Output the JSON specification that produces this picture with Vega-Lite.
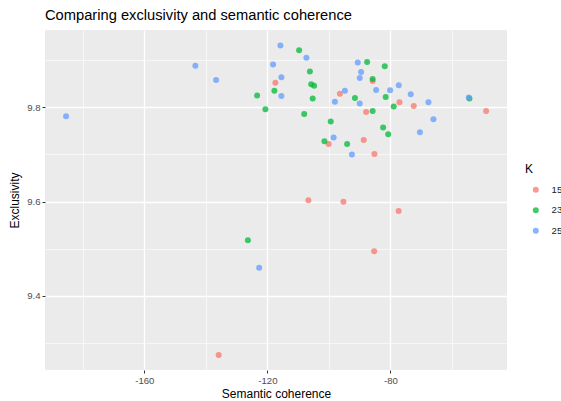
{
  "$schema": "https://vega.github.io/schema/vega-lite/v6.json",
  "width": 462, "height": 340,
  "autosize": "none",
  "padding": {"left": 45, "top": 30, "right": 54, "bottom": 31},
  "background": "white",
  "title": {"text": "Comparing exclusivity and semantic coherence", "anchor": "start", "frame": "group", "fontSize": 14.7, "fontWeight": "normal", "color": "black", "offset": 7},
  "config": {
    "font": "Liberation Sans",
    "view": {"fill": "#EBEBEB", "stroke": null}
  },
  "data": {"values": [
    {"sc": -117.4, "ex": 9.852, "K": "15"},
    {"sc": -85.76, "ex": 9.856, "K": "15"},
    {"sc": -96.42, "ex": 9.829, "K": "15"},
    {"sc": -77.07, "ex": 9.811, "K": "15"},
    {"sc": -72.42, "ex": 9.803, "K": "15"},
    {"sc": -48.88, "ex": 9.792, "K": "15"},
    {"sc": -87.9, "ex": 9.790, "K": "15"},
    {"sc": -100.07, "ex": 9.722, "K": "15"},
    {"sc": -88.68, "ex": 9.731, "K": "15"},
    {"sc": -85.2, "ex": 9.701, "K": "15"},
    {"sc": -106.67, "ex": 9.603, "K": "15"},
    {"sc": -95.28, "ex": 9.600, "K": "15"},
    {"sc": -77.33, "ex": 9.580, "K": "15"},
    {"sc": -85.3, "ex": 9.495, "K": "15"},
    {"sc": -135.84, "ex": 9.275, "K": "15"},
    {"sc": -109.69, "ex": 9.921, "K": "23"},
    {"sc": -117.72, "ex": 9.835, "K": "23"},
    {"sc": -123.35, "ex": 9.825, "K": "23"},
    {"sc": -120.65, "ex": 9.796, "K": "23"},
    {"sc": -106.18, "ex": 9.876, "K": "23"},
    {"sc": -105.76, "ex": 9.849, "K": "23"},
    {"sc": -104.81, "ex": 9.846, "K": "23"},
    {"sc": -105.27, "ex": 9.819, "K": "23"},
    {"sc": -108.03, "ex": 9.786, "K": "23"},
    {"sc": -87.58, "ex": 9.896, "K": "23"},
    {"sc": -81.85, "ex": 9.887, "K": "23"},
    {"sc": -85.79, "ex": 9.860, "K": "23"},
    {"sc": -91.54, "ex": 9.820, "K": "23"},
    {"sc": -81.53, "ex": 9.822, "K": "23"},
    {"sc": -78.93, "ex": 9.802, "K": "23"},
    {"sc": -54.31, "ex": 9.819, "K": "23"},
    {"sc": -85.79, "ex": 9.792, "K": "23"},
    {"sc": -99.41, "ex": 9.770, "K": "23"},
    {"sc": -82.37, "ex": 9.757, "K": "23"},
    {"sc": -80.72, "ex": 9.743, "K": "23"},
    {"sc": -101.46, "ex": 9.728, "K": "23"},
    {"sc": -94.08, "ex": 9.722, "K": "23"},
    {"sc": -126.34, "ex": 9.518, "K": "23"},
    {"sc": -185.46, "ex": 9.781, "K": "25"},
    {"sc": -143.41, "ex": 9.888, "K": "25"},
    {"sc": -136.68, "ex": 9.858, "K": "25"},
    {"sc": -115.77, "ex": 9.931, "K": "25"},
    {"sc": -118.15, "ex": 9.891, "K": "25"},
    {"sc": -115.45, "ex": 9.864, "K": "25"},
    {"sc": -115.45, "ex": 9.824, "K": "25"},
    {"sc": -107.32, "ex": 9.905, "K": "25"},
    {"sc": -90.63, "ex": 9.895, "K": "25"},
    {"sc": -89.53, "ex": 9.875, "K": "25"},
    {"sc": -89.98, "ex": 9.862, "K": "25"},
    {"sc": -94.8, "ex": 9.835, "K": "25"},
    {"sc": -84.65, "ex": 9.837, "K": "25"},
    {"sc": -80.1, "ex": 9.836, "K": "25"},
    {"sc": -77.3, "ex": 9.847, "K": "25"},
    {"sc": -98.05, "ex": 9.812, "K": "25"},
    {"sc": -89.98, "ex": 9.808, "K": "25"},
    {"sc": -73.4, "ex": 9.828, "K": "25"},
    {"sc": -67.64, "ex": 9.811, "K": "25"},
    {"sc": -54.54, "ex": 9.821, "K": "25"},
    {"sc": -66.02, "ex": 9.775, "K": "25"},
    {"sc": -70.41, "ex": 9.747, "K": "25"},
    {"sc": -98.47, "ex": 9.736, "K": "25"},
    {"sc": -92.52, "ex": 9.700, "K": "25"},
    {"sc": -122.67, "ex": 9.460, "K": "25"}
  ]},
  "mark": {"type": "circle", "size": 36, "opacity": 0.75},
  "encoding": {
    "x": {
      "field": "sc", "type": "quantitative", "title": "Semantic coherence",
      "scale": {"domain": [-192.3, -42.1], "nice": false, "zero": false},
      "axis": {
        "values": [-180, -160, -140, -120, -100, -80, -60],
        "labelExpr": "datum.value % 40 === 0 ? toString(datum.value) : ''",
        "domain": false, "grid": true, "gridColor": "white",
        "gridWidth": {"condition": {"test": "datum.value % 40 === 0", "value": 1.3}, "value": 0.6},
        "tickColor": {"condition": {"test": "datum.value % 40 === 0", "value": "#333333"}, "value": "transparent"},
        "tickSize": 3, "tickWidth": 1,
        "labelColor": "#4D4D4D", "labelFontSize": 9.6, "labelPadding": 2,
        "titleFontSize": 12, "titleColor": "black", "titleFontWeight": "normal", "titlePadding": 4
      }
    },
    "y": {
      "field": "ex", "type": "quantitative", "title": "Exclusivity",
      "scale": {"domain": [9.243, 9.964], "nice": false, "zero": false},
      "axis": {
        "values": [9.3, 9.4, 9.5, 9.6, 9.7, 9.8, 9.9],
        "labelExpr": "indexof([9.4, 9.6, 9.8], datum.value) >= 0 ? format(datum.value, '.1f') : ''",
        "domain": false, "grid": true, "gridColor": "white",
        "gridWidth": {"condition": {"test": "indexof([9.4, 9.6, 9.8], datum.value) >= 0", "value": 1.3}, "value": 0.6},
        "tickColor": {"condition": {"test": "indexof([9.4, 9.6, 9.8], datum.value) >= 0", "value": "#333333"}, "value": "transparent"},
        "tickSize": 3, "tickWidth": 1,
        "labelColor": "#4D4D4D", "labelFontSize": 9.6, "labelPadding": 2,
        "titleFontSize": 12, "titleColor": "black", "titleFontWeight": "normal", "titlePadding": 5
      }
    },
    "color": {
      "field": "K", "type": "nominal",
      "scale": {"domain": ["15", "23", "25"], "range": ["#F8766D", "#00BA38", "#619CFF"]},
      "legend": {
        "orient": "none", "legendX": 480, "legendY": 134,
        "title": "K", "titleFontSize": 12, "titleColor": "black", "titleFontWeight": "normal", "titlePadding": 9,
        "labelFontSize": 9.6, "labelColor": "#1A1A1A", "labelOffset": 11,
        "symbolType": "circle", "symbolSize": 36, "symbolOffset": 6, "rowPadding": 9.5, "padding": 0
      }
    }
  }
}
